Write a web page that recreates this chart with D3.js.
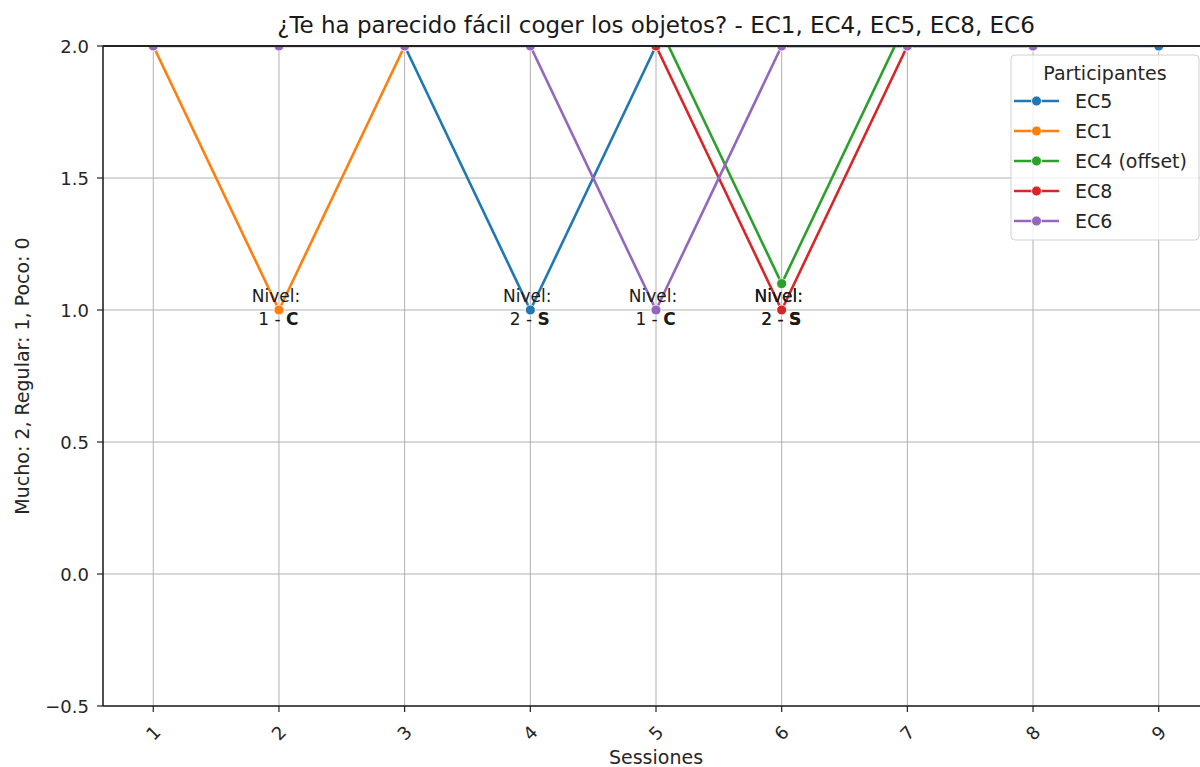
<!DOCTYPE html>
<html>
<head>
<meta charset="utf-8">
<script src="https://cdn.jsdelivr.net/npm/d3@7"></script>
<style>
html,body{margin:0;padding:0;background:#fff;}
svg{display:block;font-family:"DejaVu Sans",sans-serif;}
</style>
</head>
<body>
<svg id="chart" width="1200" height="767"></svg>
<script>
// ---- data ----
const sessionTicks = [1,2,3,4,5,6,7,8,9];
const yTicks = [-0.5, 0.0, 0.5, 1.0, 1.5, 2.0];
const seriesNames = ["EC5", "EC1", "EC4 (offset)", "EC8", "EC6"];
const seriesColors = ["#1f77b4", "#ff7f0e", "#2ca02c", "#d62728", "#9467bd"];
const ec5Sessions = [3,4,5,6,7,8,9];
const ec5Values   = [2,1,2,2,2,2,2];
const ec1Sessions = [1,2,3];
const ec1Values   = [2,1,2];
const ec4Sessions = [5,6,7];
const ec4Values   = [2.1,1.1,2.1];
const ec8Sessions = [5,6,7];
const ec8Values   = [2,1,2];
const ec6Sessions = [1,2,3,4,5,6,7,8];
const ec6Values   = [2,2,2,2,1,2,2,2];
const annSessions = [2,4,5,6,6];
const annValues   = [1,1,1,1,1];
const annLevels   = ["1","2","1","2","2"];
const annTypes    = ["C","S","C","S","S"];

const titleText = "¿Te ha parecido fácil coger los objetos? - EC1, EC4, EC5, EC8, EC6";
const xLabel = "Sessiones";
const yLabel = "Mucho: 2, Regular: 1, Poco: 0";
const legendTitle = "Participantes";

// ---- layout ----
const svg = d3.select("#chart");
const L = 103, T = 46, R = 1209, B = 706;
const x = d3.scaleLinear().domain([0.6, 9.4]).range([L, R]);
const y = d3.scaleLinear().domain([-0.5, 2.0]).range([B, T]);

svg.append("defs").append("clipPath").attr("id","clip")
  .append("rect").attr("x",L).attr("y",T).attr("width",R-L).attr("height",B-T);

// grid
const grid = svg.append("g");
grid.selectAll(".gx").data(sessionTicks).join("line")
  .attr("x1", d=>x(d)).attr("x2", d=>x(d)).attr("y1",T).attr("y2",B)
  .attr("stroke","#b0b0b0").attr("stroke-width",1);
grid.selectAll(".gy").data(yTicks).join("line")
  .attr("x1",L).attr("x2",R).attr("y1", d=>y(d)).attr("y2", d=>y(d))
  .attr("stroke","#b0b0b0").attr("stroke-width",1);

// series
const allSeries = [
  {s: ec5Sessions, v: ec5Values},
  {s: ec1Sessions, v: ec1Values},
  {s: ec4Sessions, v: ec4Values},
  {s: ec8Sessions, v: ec8Values},
  {s: ec6Sessions, v: ec6Values}
];
const plot = svg.append("g").attr("clip-path","url(#clip)");
const line = d3.line().x(d=>x(d[0])).y(d=>y(d[1]));
allSeries.forEach((ser, i) => {
  const pts = ser.s.map((s, j) => [s, ser.v[j]]);
  const g = plot.append("g");
  g.append("path").datum(pts).attr("d", line)
    .attr("fill","none").attr("stroke", seriesColors[i]).attr("stroke-width",2.6)
    .attr("stroke-linejoin","round");
  g.selectAll("circle").data(pts).join("circle")
    .attr("cx", d=>x(d[0])).attr("cy", d=>y(d[1])).attr("r",5)
    .attr("fill", seriesColors[i]).attr("stroke","#fff").attr("stroke-width",0.8);
});

// annotations
const ann = svg.append("g").attr("font-size","17px").attr("fill","#1a1a1a");
annSessions.forEach((s, i) => {
  const cx = x(s), cy = y(annValues[i]);
  ann.append("text").attr("x", cx-3).attr("y", cy-8).attr("text-anchor","middle").text("Nivel:");
  const t = ann.append("text").attr("x", cx-0.5).attr("y", cy+15).attr("text-anchor","middle");
  t.append("tspan").text(annLevels[i] + " - ");
  t.append("tspan").attr("font-weight","bold").text(annTypes[i]);
});

// spines
const sp = svg.append("g").attr("stroke","#222").attr("stroke-width",1.6);
sp.append("line").attr("x1",L).attr("x2",L).attr("y1",T).attr("y2",B);
sp.append("line").attr("x1",L).attr("x2",R).attr("y1",B).attr("y2",B);
sp.append("line").attr("x1",L).attr("x2",R).attr("y1",T).attr("y2",T).attr("stroke-width",2);

// y axis ticks
const fmt = d3.format(".1f");
const ya = svg.append("g");
yTicks.forEach(t => {
  ya.append("line").attr("x1",L-6).attr("x2",L).attr("y1",y(t)).attr("y2",y(t)).attr("stroke","#222").attr("stroke-width",1.2);
  ya.append("text").attr("x",L-14).attr("y",y(t)+6.5).attr("text-anchor","end")
    .attr("font-size","18px").attr("fill","#262626").text(fmt(t));
});
// x axis ticks
const xa = svg.append("g");
sessionTicks.forEach(t => {
  xa.append("line").attr("x1",x(t)).attr("x2",x(t)).attr("y1",B).attr("y2",B+6).attr("stroke","#222").attr("stroke-width",1.2);
  xa.append("text").attr("transform",`translate(${x(t)},${733}) rotate(-45)`)
    .attr("text-anchor","middle").attr("dy","0.35em")
    .attr("font-size","18px").attr("fill","#262626").text(t);
});

// labels
svg.append("text").attr("x",(L+R)/2).attr("y",33).attr("text-anchor","middle")
  .attr("font-size","23px").attr("fill","#1a1a1a").text(titleText);
svg.append("text").attr("x",(L+R)/2).attr("y",764).attr("text-anchor","middle")
  .attr("font-size","19px").attr("fill","#262626").text(xLabel);
svg.append("text").attr("transform",`translate(29,${(T+B)/2}) rotate(-90)`).attr("text-anchor","middle")
  .attr("font-size","19px").attr("fill","#262626").text(yLabel);

// legend
const lg = svg.append("g");
lg.append("rect").attr("x",1011).attr("y",55).attr("width",188).attr("height",185).attr("rx",4)
  .attr("fill","#fff").attr("fill-opacity",0.8).attr("stroke","#d0d0d0").attr("stroke-width",1);
lg.append("text").attr("x",1105).attr("y",80).attr("text-anchor","middle")
  .attr("font-size","19px").attr("fill","#262626").text(legendTitle);
seriesNames.forEach((n, i) => {
  const cy = 101 + i*30;
  lg.append("line").attr("x1",1014).attr("x2",1059).attr("y1",cy).attr("y2",cy)
    .attr("stroke",seriesColors[i]).attr("stroke-width",2.6);
  lg.append("circle").attr("cx",1036.5).attr("cy",cy).attr("r",5)
    .attr("fill",seriesColors[i]).attr("stroke","#fff").attr("stroke-width",0.8);
  lg.append("text").attr("x",1075).attr("y",cy+7).attr("font-size","19px").attr("fill","#262626").text(n);
});
</script>
</body>
</html>
